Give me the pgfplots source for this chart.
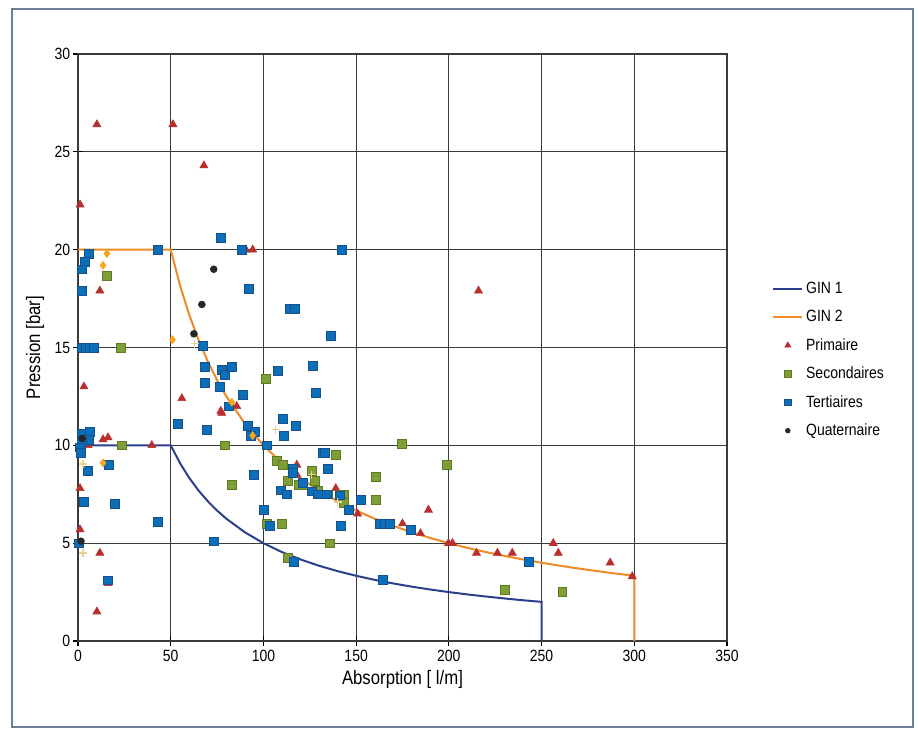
\documentclass[border=0pt]{standalone}
\usepackage{fontspec}
\setmainfont{Liberation Sans}[FakeStretch=0.86]
\usepackage{pgfplots}
\pgfplotsset{compat=1.18}
\pgfplotsset{markleg/.style={legend image code/.code={\draw[##1,mark size=#1] plot coordinates {(11pt,0pt)};}}}
\definecolor{frameC}{HTML}{6A7D99}
\definecolor{gridC}{HTML}{3A3A3A}
\definecolor{gin1}{HTML}{2B3F8C}
\definecolor{gin2}{HTML}{EF8A26}
\definecolor{primC}{HTML}{B8302E}
\definecolor{secC}{HTML}{7F9E35}
\definecolor{secD}{HTML}{5C7A22}
\definecolor{terC}{HTML}{0A6FB8}
\definecolor{terD}{HTML}{17508A}
\definecolor{quaC}{HTML}{262626}
\definecolor{diaC}{HTML}{F7A41E}
\definecolor{plusC}{HTML}{E2D48A}
\begin{document}
\begin{tikzpicture}[font=\fontsize{12.2}{14}\selectfont]
\useasboundingbox (-58.5pt,-66pt) rectangle (630.75pt,480.75pt);
\fill[white] (-58.5pt,-66pt) rectangle (630.75pt,480.75pt);
\draw[color=frameC, line width=1.2pt] (-49.5pt,-64.5pt) rectangle (626.25pt,474pt);
\begin{axis}[
  at={(0,0)}, anchor=south west,
  scale only axis, width=486.75pt, height=440.25pt,
  xmin=0, xmax=350, ymin=0, ymax=30,
  xtick={0,50,...,350}, ytick={0,5,...,30},
  grid=major, major grid style={color=gridC, line width=0.7pt},
  axis line style={color=gridC, line width=0.9pt},
  tick align=center, major tick length=7pt, tick pos=left,
  tick style={color=black, line width=0.8pt},
  yticklabel style={xshift=1.2pt},
  clip=false,
  /pgf/number format/assume math mode=true,
  xlabel={Absorption [ l/m]}, ylabel={Pression [bar]},
  label style={font=\fontsize{14.6}{16}\selectfont},
  xlabel style={at={(axis description cs:0.5,0)}, anchor=center, yshift=-28.5pt},
  ylabel style={at={(axis description cs:0,0.5)}, anchor=center, yshift=32.25pt},
  legend cell align=left,
  legend style={at={(1.063,0.6205)}, anchor=north west, draw=none, fill=none, row sep=7pt},
  legend image code/.code={\draw[#1] (0pt,0pt) -- (22pt,0pt);},
]
\addplot[color=gin1, line width=1.5pt, mark=none] coordinates {
(0,10) (50,10) (55,9.091) (60,8.333) (65,7.692) (70,7.143) (75,6.667) (80,6.25) (90,5.556) (100,5) (110,4.545) (120,4.167) (130,3.846) (140,3.571) (150,3.333) (160,3.125) (170,2.941) (180,2.778) (190,2.632) (200,2.5) (210,2.381) (220,2.273) (230,2.174) (240,2.083) (250,2) (250,0)};
\addlegendentry{GIN 1}
\addplot[color=gin2, line width=1.5pt, mark=none] coordinates {
(0,20) (50,20) (55,18.18) (60,16.667) (65,15.385) (70,14.286) (75,13.333) (80,12.5) (90,11.111) (100,10) (110,9.091) (120,8.333) (130,7.692) (140,7.143) (150,6.667) (160,6.25) (170,5.882) (180,5.556) (190,5.263) (200,5) (210,4.762) (220,4.545) (230,4.348) (240,4.167) (250,4) (260,3.846) (270,3.704) (280,3.571) (290,3.448) (300,3.333) (300,0)};
\addlegendentry{GIN 2}
\addplot[only marks, mark=triangle*, mark size=3.5pt, color=primC, markleg=2.6pt] coordinates {
(10.2,26.4) (51.2,26.4) (67.9,24.3) (1.1,22.3) (90.5,20.0) (94.2,20.0) (11.8,17.9) (216,17.9)
(3.2,13.0) (56,12.4) (77,11.75) (77.5,11.65) (85.6,12.0) (39.8,10.0) (13.5,10.3) (16.2,10.4)
(5.4,10.0) (1.1,7.8) (1.1,5.7) (11.8,4.5) (16.2,2.95) (10.2,1.5) (118,9.0) (118,8.5)
(139,7.8) (150.8,6.5) (175,6.0) (189,6.7) (184.7,5.5) (199.8,5.0) (202,5.0) (214.9,4.5)
(226.2,4.5) (234.2,4.5) (256.3,5.0) (259,4.5) (287,4.0) (298.9,3.3)};
\addlegendentry{Primaire}
\addplot[only marks, mark=square*, mark size=3.3pt, draw=secD, fill=secC, markleg=2.3pt] coordinates {
(15.6,18.65) (23.2,15.0) (23.7,10.0) (101.2,13.4) (79.2,10.0) (83,8.0) (107.2,9.2) (110.4,9.0)
(113,8.2) (119,8.0) (121.2,8.0) (126,8.7) (127.6,8.2) (129.2,7.7) (134.6,7.5) (138.9,9.5)
(143.2,7.5) (143.2,7.05) (174.5,10.1) (198.7,9.0) (160.5,8.4) (160.5,7.2) (101.8,6.0) (110,6.0)
(113,4.25) (135.7,5.0) (230,2.6) (261.2,2.5)};
\addlegendentry{Secondaires}
\addplot[only marks, mark=square*, mark size=3.3pt, draw=terD, fill=terC, markleg=2.3pt] coordinates {
(77,20.6) (43,20.0) (88.3,20.0) (142.2,20.0) (5.9,19.8) (3.8,19.4) (2.2,19.0) (2.2,17.9)
(92,18.0) (114.2,17.0) (116.9,17.0) (2.2,15.0) (4.3,15.0) (6.5,15.0) (8.6,15.0) (136.2,15.6)
(67.3,15.1) (68.4,14.0) (77.5,13.85) (79.2,13.6) (83,14.0) (68.4,13.2) (76.5,13.0) (107.7,13.8)
(126.5,14.05) (128.2,12.7) (88.8,12.6) (81.3,12.0) (53.8,11.1) (69.5,10.8) (91.5,11.0) (95.3,10.7)
(93.2,10.5) (110.4,11.35) (117.4,11.0) (111,10.5) (101.8,10.0) (132,9.6) (133,9.6) (134.6,8.8)
(115.8,8.8) (115.8,8.6) (121.2,8.1) (109.3,7.7) (112.5,7.5) (126,7.65) (129.2,7.5) (134,7.5)
(141,7.45) (146,6.7) (152.4,7.2) (141.6,5.9) (162.6,6.0) (165.3,6.0) (168,6.0) (179.3,5.7)
(164.2,3.15) (242.9,4.05) (100.2,6.7) (103.4,5.9) (116.3,4.05) (94.8,8.5) (73.2,5.1) (43,6.1)
(19.9,7.0) (3.2,7.1) (5.4,8.7) (16.7,9.0) (16.2,3.1) (0.5,5.0)
(2.2,10.6) (6.5,10.7) (5.9,10.3) (2.2,10.2) (1.1,9.9) (1.6,9.6)};
\addlegendentry{Tertiaires}
\addplot[only marks, mark=*, mark size=2.6pt, color=quaC, markleg=1.8pt] coordinates {
(62.5,15.7) (73.2,19.0) (66.8,17.2) (2.2,10.35) (1.6,5.1)};
\addlegendentry{Quaternaire}
\addplot[only marks, mark=diamond*, mark size=3pt, color=diaC, forget plot] coordinates {
(15.6,19.8) (13.5,19.2) (51,15.4) (83,12.2) (94.2,10.5) (13.5,9.1)};
\addplot[only marks, mark=+, mark size=3pt, color=plusC, line width=0.9pt, forget plot] coordinates {
(63,15.2) (106.6,10.8) (126,8.5) (140,7.1) (2.7,9.05) (2.7,4.5)};
\end{axis}
\end{tikzpicture}
\end{document}
